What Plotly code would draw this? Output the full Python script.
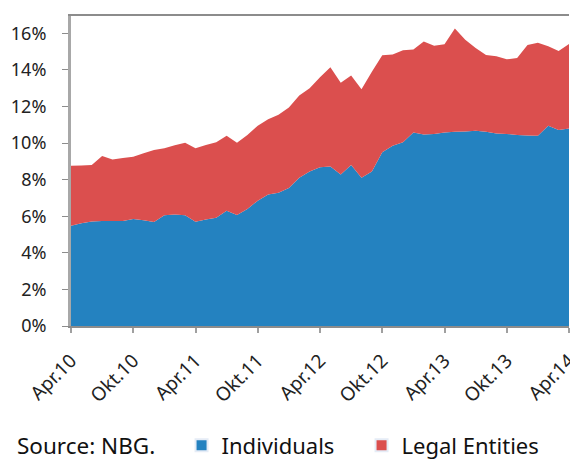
import plotly.graph_objects as go

months = list(range(49))
tick_idx = [0, 6, 12, 18, 24, 30, 36, 42, 48]
tick_labels = ["Apr.10", "Okt.10", "Apr.11", "Okt.11", "Apr.12", "Okt.12", "Apr.13", "Okt.13", "Apr.14"]

individuals = [5.48, 5.62, 5.72, 5.74, 5.74, 5.74, 5.85, 5.78, 5.69, 6.05,
               6.10, 6.05, 5.70, 5.82, 5.92, 6.30, 6.07, 6.40, 6.85, 7.19,
               7.28, 7.55, 8.10, 8.45, 8.68, 8.72, 8.28, 8.80, 8.10, 8.45,
               9.50, 9.85, 10.05, 10.58, 10.47, 10.50, 10.58, 10.62, 10.64, 10.67,
               10.62, 10.53, 10.50, 10.44, 10.42, 10.40, 10.95, 10.72, 10.80]

legal_entities = [3.28, 3.16, 3.08, 3.56, 3.36, 3.44, 3.41, 3.67, 3.93, 3.67,
                  3.78, 3.97, 4.02, 4.08, 4.13, 4.10, 3.95, 4.05, 4.10, 4.11,
                  4.27, 4.40, 4.50, 4.55, 4.92, 5.43, 5.02, 4.90, 4.85, 5.45,
                  5.30, 5.00, 5.03, 4.54, 5.08, 4.82, 4.82, 5.65, 5.01, 4.53,
                  4.20, 4.22, 4.08, 4.22, 4.94, 5.09, 4.35, 4.32, 4.62]

y_ticks = [0, 2, 4, 6, 8, 10, 12, 14, 16]

BLUE = "#2482C0"
RED = "#DB4F4E"

fig = go.Figure()
fig.add_trace(go.Scatter(x=months, y=individuals, stackgroup="one", mode="none",
                         fillcolor=BLUE, name="Individuals", showlegend=False))
fig.add_trace(go.Scatter(x=months, y=legal_entities, stackgroup="one", mode="none",
                         fillcolor=RED, name="Legal Entities", showlegend=False))
# legend swatches
fig.add_trace(go.Bar(x=[None], y=[None], marker_color=BLUE, name="Individuals"))
fig.add_trace(go.Bar(x=[None], y=[None], marker_color=RED, name="Legal Entities"))

font_family = "Noto Sans"
fig.update_layout(
    width=570, height=460,
    margin=dict(l=71, r=1, t=16, b=134, autoexpand=False),
    paper_bgcolor="white", plot_bgcolor="white",
    font=dict(family=font_family, size=15, color="#222"),
    showlegend=True,
    legend=dict(orientation="h", x=0.222, y=-0.385, xanchor="left", yanchor="middle",
                traceorder="normal",
                font=dict(size=22, color="#111"), entrywidth=135, entrywidthmode="pixels",
                itemsizing="constant"),
    xaxis=dict(range=[0, 48], tickmode="array", tickvals=tick_idx, ticktext=tick_labels,
               tickangle=-45, showgrid=False, zeroline=False, automargin=False,
               showline=True, linecolor="#8c8c8c", linewidth=2, mirror=True,
               ticks="outside", ticklen=5, tickcolor="#a0a0a0", tickwidth=2,
               ticklabelstandoff=9, ticklabeloverflow="allow",
               tickfont=dict(size=19, color="#222")),
    yaxis=dict(range=[0, 16.95], tickmode="array", tickvals=y_ticks, automargin=False,
               ticktext=[f"{v}%" for v in y_ticks], showgrid=False, zeroline=False,
               showline=True, linecolor="#a8a8a8", linewidth=3,
               ticks="outside", ticklen=6, tickcolor="#8c8c8c", tickwidth=1,
               ticklabelstandoff=12,
               tickfont=dict(size=18, color="#222")),
    annotations=[dict(text="Source: NBG.", xref="paper", yref="paper", x=-0.112, y=-0.384,
                      xanchor="left", yanchor="middle", showarrow=False,
                      font=dict(size=22.5, color="#111"))],
)

# remove the default 8px page margin so the 570x460 figure fills the window exactly
fig.write_html("out.html", config={"displayModeBar": False},
               post_script="document.body.style.margin='0px';document.body.style.overflow='hidden';")
